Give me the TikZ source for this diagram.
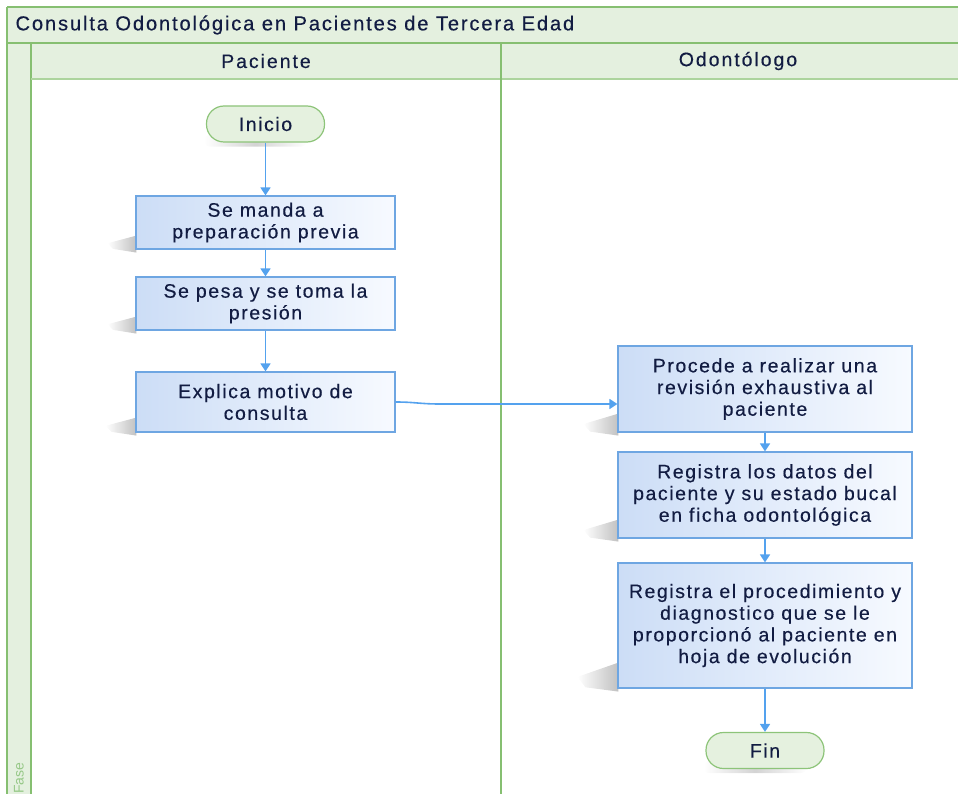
\documentclass[tikz,border=0pt]{standalone}
\usepackage{fontspec}
\setmainfont{Liberation Sans}
\newfontfamily\flowfont[LetterSpace=8,FakeBold=0.35]{Liberation Sans}
\newfontfamily\headfont[LetterSpace=10,FakeBold=0.35]{Liberation Sans}
\newfontfamily\titlefont[LetterSpace=9,FakeBold=0.35]{Liberation Sans}
\usetikzlibrary{arrows.meta,fadings,calc}

\definecolor{laneFill}{RGB}{228,240,223}
\definecolor{laneLine}{RGB}{134,191,113}
\definecolor{laneLineLt}{RGB}{172,212,157}
\definecolor{boxLine}{RGB}{110,166,226}
\definecolor{boxLeft}{RGB}{204,221,246}
\definecolor{boxRight}{RGB}{247,250,255}
\definecolor{flowBlue}{RGB}{84,162,238}
\definecolor{termFill}{RGB}{229,241,223}
\definecolor{termLine}{RGB}{141,196,121}
\definecolor{inkText}{RGB}{18,28,66}
\definecolor{faseText}{RGB}{150,200,135}
\definecolor{shadowGray}{RGB}{130,130,130}

\tikzfading[name=shfade, left color=transparent!100, right color=transparent!50]
\tikzfading[name=termfade, left color=transparent!100, right color=transparent!100,
  middle color=transparent!65]

\pgfdeclarelayer{shade}
\pgfsetlayers{shade,main}

\tikzset{
  lanefill/.style={fill=laneFill, draw=none},
  laneborder/.style={draw=laneLine, line width=1.6pt},
  lanetext/.style={text=inkText, font=\headfont\fontsize{19.5}{22}\selectfont},
  procbox/.style={rectangle, draw=boxLine, line width=1.2pt,
    left color=boxLeft, right color=boxRight, minimum width=259pt,
    align=center, text=inkText, inner sep=0pt,
    font=\flowfont\fontsize{19.5}{21.7}\selectfont},
  wideproc/.style={procbox, minimum width=294pt},
  terminal/.style={rectangle, rounded corners=17.5pt, draw=termLine, line width=1.2pt,
    fill=termFill, minimum width=118pt, minimum height=36pt, inner sep=0pt,
    text=inkText, font=\flowfont\fontsize{19.5}{21.7}\selectfont},
  flow/.style={draw=flowBlue, line width=1.6pt,
    -{Triangle[length=8pt,width=10pt]}},
}

% soft cast shadow towards the lower left of a process box
\newcommand\procshadow[3]{%
  \fill[shadowGray, path fading=shfade]
    ($(#1.south west)+(1,-#3)$) --
    ($(#1.south west)+(-#2,-0.45*#3)$) --
    ($(#1.south west)+(-0.8*#2,-0.05*#3)$) --
    ($(#1.south west)+(1,3)$) -- cycle;}
% soft shadow under a terminal
\newcommand\termshadow[1]{%
  \fill[shadowGray, path fading=termfade, rounded corners=6pt]
    ($(#1.south west)+(-2,-8)$) rectangle ($(#1.south east)+(-18,4)$);}

\begin{document}
\begin{tikzpicture}[x=1pt,y=-1pt]
\useasboundingbox (0,0) rectangle (958,794);

% pool and lanes
\fill[lanefill] (7,7) rectangle (958,43);
\fill[lanefill] (31,43) rectangle (958,79);
\fill[lanefill] (7,43) rectangle (31,794);
\draw[draw=laneLine, line width=1.4pt] (7,7) -- (958,7);
\draw[laneborder] (7,7) -- (7,794);
\draw[laneborder] (7,43) -- (958,43);
\draw[laneborder] (31,43) -- (31,794);
\draw[draw=laneLineLt, line width=2pt] (31,79) -- (958,79);
\draw[laneborder] (501,43) -- (501,794);

\node[anchor=west, text=inkText, font=\titlefont\fontsize{20.2}{22}\selectfont]
  (title) at (12,25) {Consulta Odontológica en Pacientes de Tercera Edad};
\node[lanetext] (lanePac) at (266,61) {Paciente};
\node[lanetext] (laneOdo) at (738,61) {Odontólogo};
\node[rotate=90, text=faseText, font=\fontsize{14}{16}\selectfont]
  (fase) at (19,778) {Fase};

% process steps
\node[terminal] (ini) at (265.5,124) {Inicio};
\node[procbox, minimum height=53pt] (b1) at (265.5,222.5) {Se manda a\\preparación previa};
\node[procbox, minimum height=53pt] (b2) at (265.5,303.5) {Se pesa y se toma la\\presión};
\node[procbox, minimum height=60pt] (b3) at (265.5,402) {Explica motivo de\\consulta};
\node[wideproc, minimum height=86pt] (b4) at (765,389)
  {Procede a realizar una\\revisión exhaustiva al\\paciente};
\node[wideproc, minimum height=86pt] (b5) at (765,495)
  {Registra los datos del\\paciente y su estado bucal\\en ficha odontológica};
\node[wideproc, minimum height=125pt] (b6) at (765,625.5)
  {Registra el procedimiento y\\diagnostico que se le\\proporcionó al paciente en\\hoja de evolución};
\node[terminal] (fin) at (765,750.5) {Fin};

\begin{pgfonlayer}{shade}
  \procshadow{b1}{28}{14}
  \procshadow{b2}{28}{14}
  \procshadow{b3}{30}{15}
  \procshadow{b4}{34}{19}
  \procshadow{b5}{34}{19}
  \procshadow{b6}{40}{26}
  \termshadow{ini}
  \termshadow{fin}
\end{pgfonlayer}

% connectors
\draw[flow] (ini) -- (b1);
\draw[flow] (b1) -- (b2);
\draw[flow] (b2) -- (b3);
\coordinate (bend) at (440,404);
\draw[flow] (b3.east) .. controls (415,402) and (420,404) .. (bend) -- (bend -| b4.west);
\draw[flow] (b4) -- (b5);
\draw[flow] (b5) -- (b6);
\draw[flow] (b6) -- (fin);
\end{tikzpicture}
\end{document}
